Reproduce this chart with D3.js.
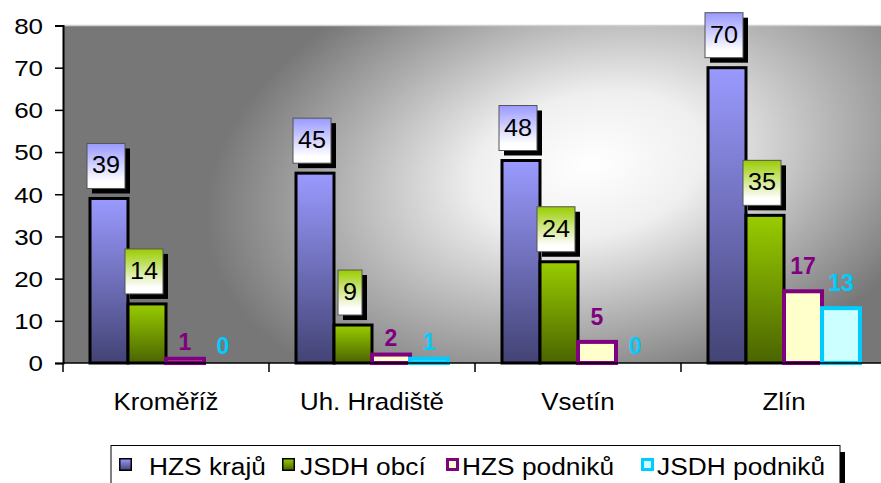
<!DOCTYPE html>
<html><head><meta charset="utf-8">
<script src="https://cdn.jsdelivr.net/npm/d3@7/dist/d3.min.js"></script>
<style>
html,body{margin:0;padding:0;background:#fff;}
svg{display:block;font-family:"Liberation Sans",Arial,sans-serif;}
</style></head>
<body>
<svg id="c" width="881" height="483"></svg>
<script>
const categories = ["Kroměříž", "Uh. Hradiště", "Vsetín", "Zlín"];
const seriesNames = ["HZS krajů", "JSDH obcí", "HZS podniků", "JSDH podniků"];
const hzsKraju = [39, 45, 48, 70];
const jsdhObci = [14, 9, 24, 35];
const hzsPodniku = [1, 2, 5, 17];
const jsdhPodniku = [0, 1, 0, 13];
const yTicks = [0, 10, 20, 30, 40, 50, 60, 70, 80];

const seriesValues = [hzsKraju, jsdhObci, hzsPodniku, jsdhPodniku];
const styles = [
  {fill:"url(#gBlue)", stroke:"#000", sw:3, boxed:true, top:"#9999ff"},
  {fill:"url(#gGreen)", stroke:"#000", sw:3, boxed:true, top:"#99cc00"},
  {fill:"#ffffcc", stroke:"#800080", sw:4, boxed:false, label:"#800080"},
  {fill:"#ccffff", stroke:"#00ccff", sw:4, boxed:false, label:"#00ccff"}
];

const svg = d3.select("#c");
const defs = svg.append("defs");
function lin(id, stops){
  const g = defs.append("linearGradient").attr("id", id).attr("x1",0).attr("y1",0).attr("x2",0).attr("y2",1);
  stops.forEach(s => g.append("stop").attr("offset", s[0]).attr("stop-color", s[1]));
}
lin("gBlue", [[0,"#9a9aff"],[1,"#434375"]]);
lin("gGreen", [[0,"#99cc00"],[1,"#4a6400"]]);
lin("bBlue", [[0,"#9999ff"],[0.85,"#ffffff"]]);
lin("bGreen", [[0,"#99cc00"],[0.85,"#ffffff"]]);
const rg = defs.append("radialGradient").attr("id","bg").attr("gradientUnits","userSpaceOnUse")
  .attr("cx",0).attr("cy",0).attr("r",1)
  .attr("gradientTransform","translate(590,165) rotate(-12) scale(390,235)");
[[0,"#ffffff"],[0.3,"#efefef"],[0.65,"#b2b2b2"],[1,"#777777"]].forEach(s=>rg.append("stop").attr("offset",s[0]).attr("stop-color",s[1]));

const pLeft = 63, pTop = 25.5, pBottom = 363, pRight = 63 + 4*206;
const x = d3.scaleBand().domain(categories).range([pLeft, pRight]).padding(0);
const xs = d3.scaleBand().domain(d3.range(4)).range([27, 179]).padding(0);
const y = d3.scaleLinear().domain([0, 80]).range([pBottom, pTop]);

// plot background
svg.append("rect").attr("x", pLeft).attr("y", pTop).attr("width", 881-pLeft).attr("height", pBottom-pTop).attr("fill","url(#bg)");
svg.append("line").attr("x1",pLeft).attr("x2",881).attr("y1",pTop).attr("y2",pTop).attr("stroke","#d0d0d0").attr("stroke-width",1.5);

// bars
seriesValues.forEach((vals, si) => {
  const st = styles[si];
  svg.append("g").selectAll("rect").data(vals.map((v,i)=>({v, c:categories[i]})).filter(d=>d.v>0))
    .join("rect")
    .attr("x", d => x(d.c) + xs(si))
    .attr("y", d => y(d.v))
    .attr("width", xs.bandwidth())
    .attr("height", d => y(0) - y(d.v))
    .attr("fill", st.fill).attr("stroke", st.stroke).attr("stroke-width", st.sw);
});

// axes
const yAxis = svg.append("g").attr("transform", `translate(${pLeft},0)`)
  .call(d3.axisLeft(y).tickValues(yTicks).tickSize(8).tickPadding(0).tickFormat(d3.format("d")));
yAxis.select(".domain").attr("stroke","#000").attr("stroke-width",2);
yAxis.selectAll(".tick line").attr("stroke","#000").attr("stroke-width",1.5);
yAxis.selectAll(".tick text").attr("font-size",22).attr("fill","#000").attr("font-family","Liberation Sans, Arial, sans-serif")
  .attr("x",-20/1.18).attr("dy","0.36em").attr("transform","scale(1.18,1)");

svg.append("line").attr("x1",pLeft).attr("x2",881).attr("y1",pBottom).attr("y2",pBottom).attr("stroke","#000").attr("stroke-width",1.5);
const catTicks = categories.map(c => x(c));
svg.append("g").selectAll("line").data(catTicks).join("line")
  .attr("x1",d=>d).attr("x2",d=>d).attr("y1",pBottom).attr("y2",pBottom+9).attr("stroke","#000").attr("stroke-width",1.5);

svg.append("g").selectAll("text").data(categories).join("text")
  .attr("transform", d => `translate(${x(d)+x.bandwidth()/2},410) scale(1.08,1)`)
  .attr("text-anchor","middle").attr("font-size",24).attr("fill","#000").text(d=>d);

// data labels
seriesValues.forEach((vals, si) => {
  const st = styles[si];
  vals.forEach((v, i) => {
    const cx = x(categories[i]) + xs(si) + xs.bandwidth()/2;
    if (st.boxed) {
      const txt = String(v);
      const w = txt.length * 14 + 10, h = 45;
      const bx = cx - 3 - w/2, by = y(v) - 10 - h;
      svg.append("rect").attr("x", bx+5).attr("y", by+5).attr("width", w).attr("height", h).attr("fill","#000");
      svg.append("rect").attr("x", bx).attr("y", by).attr("width", w).attr("height", h)
        .attr("fill", si===0 ? "url(#bBlue)" : "url(#bGreen)").attr("stroke","#555").attr("stroke-width",1);
      svg.append("text").attr("transform", `translate(${bx + w/2},${by + h - 15}) scale(1.05,1)`)
        .attr("text-anchor","middle").attr("font-size",24).attr("fill","#000").text(txt);
    } else {
      const gap = v < 3 ? 9 : 17;
      svg.append("text").attr("x", cx).attr("y", y(v) - gap)
        .attr("text-anchor","middle").attr("font-size",23).attr("font-weight","bold").attr("fill", st.label).text(v);
    }
  });
});

// legend
svg.append("rect").attr("x",116).attr("y",452).attr("width",729).attr("height",60).attr("fill","#000");
svg.append("rect").attr("x",111).attr("y",445.5).attr("width",729).attr("height",60).attr("fill","#fff").attr("stroke","#000").attr("stroke-width",1);
const legSq = [119, 282, 446, 641];
const legTx = [149, 300, 462, 657];
const legFill = ["url(#gBlue)","url(#gGreen)","#ffffcc","#ccffff"];
seriesNames.forEach((n, i) => {
  const st = styles[i];
  const inset = st.sw === 4 ? 1.5 : 0.75;
  svg.append("rect").attr("x", legSq[i]+inset).attr("y", 458+inset).attr("width", 13-2*inset).attr("height", 13-2*inset)
    .attr("fill", legFill[i]).attr("stroke", st.stroke).attr("stroke-width", st.sw === 4 ? 3 : 1.5);
  svg.append("text").attr("transform", `translate(${legTx[i]},475) scale(1.12,1)`)
    .attr("font-size",23.5).attr("fill","#000").text(n);
});
</script>
</body></html>
